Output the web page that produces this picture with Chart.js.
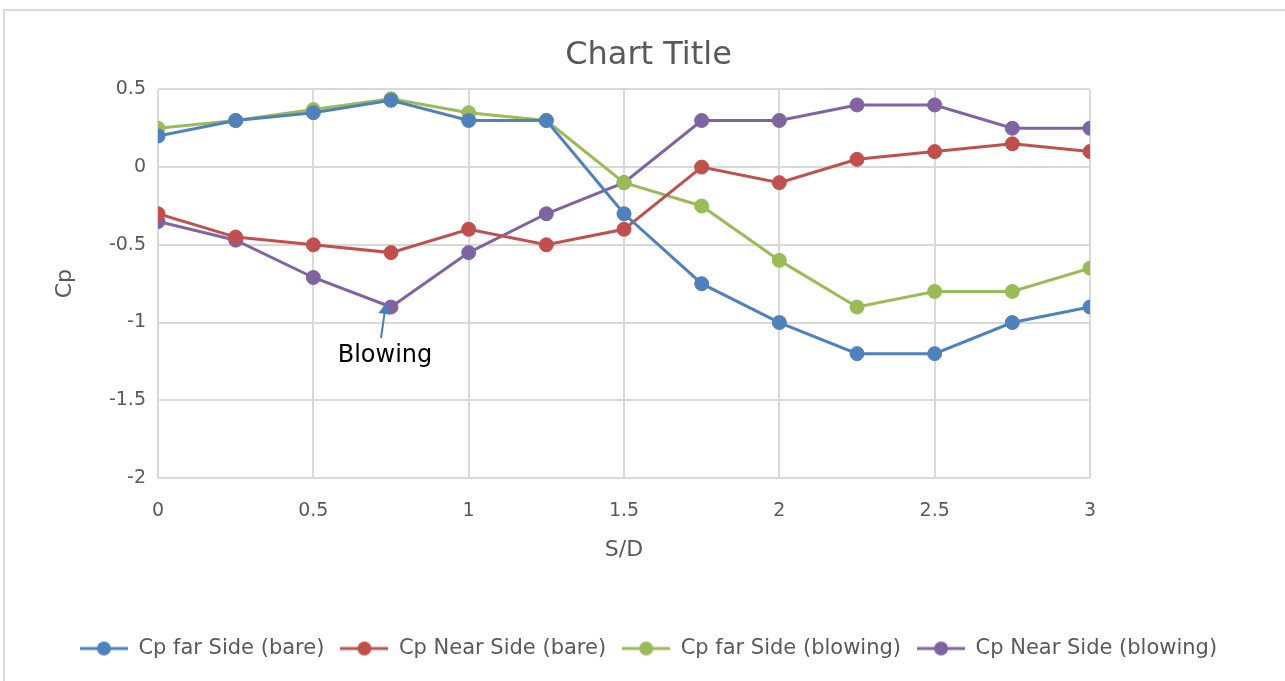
<!DOCTYPE html>
<html>
<head>
<meta charset="utf-8">
<title>Cp vs S/D</title>
<script src="https://cdn.jsdelivr.net/npm/chart.js@4.4.1/dist/chart.umd.min.js"></script>
<style>
  html, body { margin: 0; padding: 0; background: #fff; }
  #cpChart { display: block; }
</style>
</head>
<body>
<canvas id="cpChart" width="1285" height="681"></canvas>
<script>
// S/D positions and pressure coefficients
const sdValues = [0, 0.25, 0.5, 0.75, 1, 1.25, 1.5, 1.75, 2, 2.25, 2.5, 2.75, 3];
const cpFarBare = [0.2, 0.3, 0.35, 0.43, 0.3, 0.3, -0.3, -0.75, -1, -1.2, -1.2, -1, -0.9];
const cpNearBare = [-0.3, -0.45, -0.5, -0.55, -0.4, -0.5, -0.4, 0, -0.1, 0.05, 0.1, 0.15, 0.1];
const cpFarBlowing = [0.25, 0.3, 0.37, 0.44, 0.35, 0.3, -0.1, -0.25, -0.6, -0.9, -0.8, -0.8, -0.65];
const cpNearBlowing = [-0.35, -0.47, -0.71, -0.9, -0.55, -0.3, -0.1, 0.3, 0.3, 0.4, 0.4, 0.25, 0.25];

const xTicks = [0, 0.5, 1, 1.5, 2, 2.5, 3];
const yTicks = [-2, -1.5, -1, -0.5, 0, 0.5];

// annotation: arrow pointing at the near side (blowing) dip
const noteText = 'Blowing';
const noteAt = { x: 0.75, y: -0.9 };

const seriesNames = ['Cp far Side (bare)', 'Cp Near Side (bare)', 'Cp far Side (blowing)', 'Cp Near Side (blowing)'];
const seriesColors = ['#4f81bd', '#c0504d', '#9bbb59', '#8064a2'];
const seriesData = [cpFarBare, cpNearBare, cpFarBlowing, cpNearBlowing];

const FONT = '"DejaVu Sans", sans-serif';
const GREY = '#595959';
const GRID = '#d9d9d9';

// little line-with-dot icons for the legend
function legendIcon(color) {
  const c = document.createElement('canvas');
  c.width = 48; c.height = 16;
  const g = c.getContext('2d');
  g.strokeStyle = color;
  g.lineWidth = 3;
  g.beginPath(); g.moveTo(0, 8); g.lineTo(48, 8); g.stroke();
  g.fillStyle = color;
  g.beginPath(); g.arc(24, 8, 7, 0, Math.PI * 2); g.fill();
  return c;
}
const legendIcons = seriesColors.map(legendIcon);

const datasets = seriesData.map((vals, i) => ({
  label: seriesNames[i],
  data: vals.map((v, j) => ({ x: sdValues[j], y: v })),
  borderColor: seriesColors[i],
  backgroundColor: seriesColors[i],
  borderWidth: 3,
  pointRadius: 7,
  pointHoverRadius: 7,
  pointBorderWidth: 1,
  fill: false,
  tension: 0
}));

// outer frame of the chart box
const framePlugin = {
  id: 'frame',
  beforeDraw(chart) {
    const ctx = chart.ctx;
    ctx.save();
    ctx.fillStyle = '#fff';
    ctx.fillRect(0, 0, chart.width, chart.height);
    ctx.strokeStyle = GRID;
    ctx.lineWidth = 2;
    ctx.strokeRect(4, 10, chart.width + 10, chart.height + 10);
    ctx.restore();
  }
};

const notePlugin = {
  id: 'note',
  afterDatasetsDraw(chart) {
    const ctx = chart.ctx;
    const px = chart.scales.x.getPixelForValue(noteAt.x);
    const py = chart.scales.y.getPixelForValue(noteAt.y);
    const tipX = px - 5, tipY = py - 4;
    const tailX = px - 10, tailY = py + 31;
    const ang = Math.atan2(tipY - tailY, tipX - tailX);
    ctx.save();
    ctx.strokeStyle = '#4a7ebb';
    ctx.fillStyle = '#4a7ebb';
    ctx.lineWidth = 2;
    ctx.beginPath();
    ctx.moveTo(tailX, tailY);
    ctx.lineTo(tipX - 8 * Math.cos(ang), tipY - 8 * Math.sin(ang));
    ctx.stroke();
    ctx.beginPath();
    ctx.moveTo(tipX, tipY);
    ctx.lineTo(tipX - 11 * Math.cos(ang) + 6 * Math.sin(ang), tipY - 11 * Math.sin(ang) - 6 * Math.cos(ang));
    ctx.lineTo(tipX - 11 * Math.cos(ang) - 6 * Math.sin(ang), tipY - 11 * Math.sin(ang) + 6 * Math.cos(ang));
    ctx.closePath();
    ctx.fill();
    ctx.fillStyle = '#000';
    ctx.font = '24px ' + FONT;
    ctx.textAlign = 'center';
    ctx.textBaseline = 'middle';
    ctx.fillText(noteText, px - 6, py + 49);
    ctx.restore();
  }
};

const config = {
  type: 'line',
  data: { datasets: datasets },
  options: {
    responsive: false,
    animation: false,
    layout: { padding: { left: 12, right: 0, top: 0, bottom: 12 } },
    plugins: {
      title: {
        display: true,
        text: 'Chart Title',
        color: GREY,
        font: { family: FONT, size: 32, weight: 'normal' },
        padding: { top: 36, bottom: 15 }
      },
      legend: {
        position: 'bottom',
        labels: {
          usePointStyle: true,
          pointStyleWidth: 48,
          padding: 16,
          color: GREY,
          font: { family: FONT, size: 21 },
          generateLabels(chart) {
            const items = Chart.defaults.plugins.legend.labels.generateLabels(chart);
            items.forEach((it, i) => { it.pointStyle = legendIcons[i]; });
            return items;
          }
        }
      },
      tooltip: { enabled: false }
    },
    scales: {
      x: {
        type: 'linear',
        min: 0,
        max: 3,
        afterBuildTicks(scale) { scale.ticks = xTicks.map(v => ({ value: v })); },
        afterFit(scale) { scale.height = 144; },
        ticks: { color: GREY, font: { family: FONT, size: 19 }, padding: 22, callback: v => String(v) },
        grid: { color: GRID, lineWidth: 2, drawTicks: false },
        border: { display: false },
        title: {
          display: true,
          text: 'S/D',
          color: GREY,
          font: { family: FONT, size: 22 },
          padding: { top: 59, bottom: 59 }
        }
      },
      y: {
        min: -2,
        max: 0.5,
        afterBuildTicks(scale) { scale.ticks = yTicks.map(v => ({ value: v })); },
        afterFit(scale) { scale.width = 146; },
        ticks: { color: GREY, font: { family: FONT, size: 19 }, padding: 12, callback: v => String(v) },
        grid: { color: GRID, lineWidth: 2, drawTicks: false },
        border: { display: false },
        title: {
          display: true,
          text: 'Cp',
          color: GREY,
          font: { family: FONT, size: 22 },
          padding: { top: 40, bottom: 40 }
        }
      },
      // empty right-hand axis, only reserves space beside the plot
      spacer: {
        type: 'linear',
        position: 'right',
        display: true,
        afterFit(scale) { scale.width = 195; },
        ticks: { display: false },
        grid: { display: false },
        border: { display: false }
      }
    }
  },
  plugins: [framePlugin, notePlugin]
};

new Chart(document.getElementById('cpChart'), config);
</script>
</body>
</html>
